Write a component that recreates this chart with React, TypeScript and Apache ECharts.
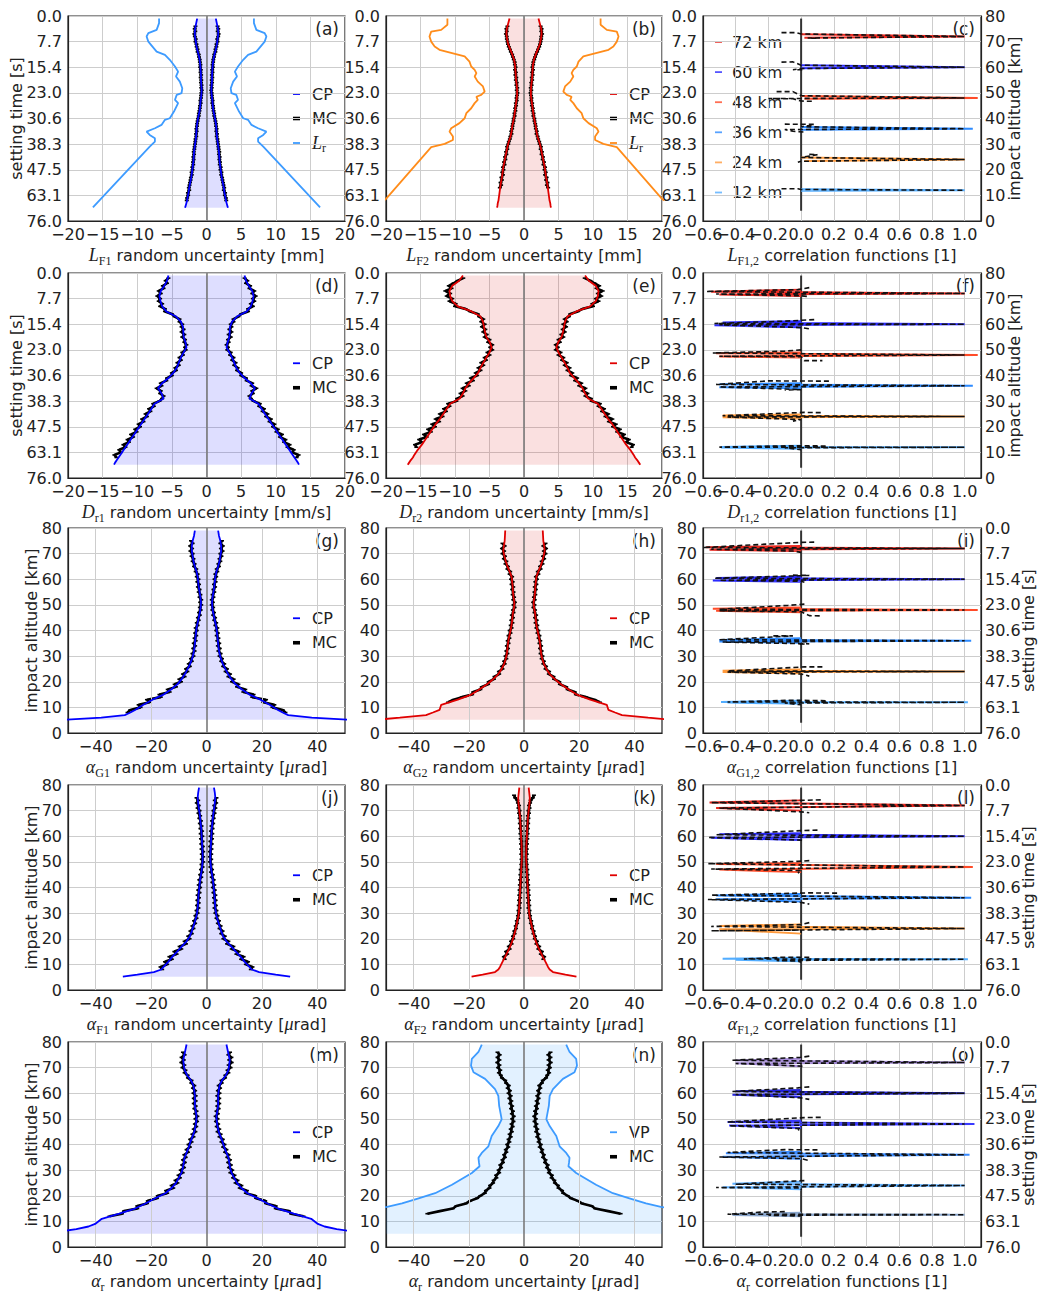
import React, { useEffect, useRef } from 'react';
import * as echarts from 'echarts';

type Pt = [number, number];
const N = null;

// ---------------- tick labels ----------------
const SETTING_TIME_LABELS = ['76.0', '63.1', '47.5', '38.3', '30.6', '23.0', '15.4', '7.7', '0.0'];
const CORR_LABELS = ['72 km', '60 km', '48 km', '36 km', '24 km', '12 km'];
const CORR_MIN_LABEL = '\u22120.6';

// ---------------- sampling altitudes [km] ----------------
const CP_ALT = [79, 77, 75, 73, 71, 69, 67, 65, 63, 61, 59, 57, 55, 53, 51, 49, 47, 45, 43, 41, 39, 37, 35, 33, 31, 29, 27, 25, 23, 21, 19, 17, 15, 13, 11, 9, 8, 7, 6, 5.2];
const MC_ALT = [78, 77, 76, 75, 74, 73, 72, 71, 70, 69, 68, 67, 66, 65, 64, 63, 62, 61, 60, 59, 58, 57, 56, 55, 54, 53, 52, 51, 50, 49, 48, 47, 46, 45, 44, 43, 42, 41, 40, 39, 38, 37, 36, 35, 34, 33, 32, 31, 30, 29, 28, 27, 26, 25, 24, 23, 22, 21, 20, 19, 18, 17, 16, 15, 14, 13, 12, 11, 10, 9, 8];

// ---------------- CP (covariance propagation) profiles ----------------
const CP_A = [1.35, 1.5, 1.65, 1.7, 1.6, 1.5, 1.35, 1.15, 1.0, 0.9, 0.85, 0.8, 0.8, 0.75, 0.7, 0.75, 0.85, 0.9, 1.0, 1.15, 1.3, 1.4, 1.45, 1.5, 1.6, 1.7, 1.8, 1.85, 1.9, 2.0, 2.1, 2.2, 2.35, 2.5, 2.6, 2.75, 2.8, 2.9, 3.0, 3.1];
const CP_B = [2.1, 2.3, 2.5, 2.55, 2.45, 2.3, 2.0, 1.7, 1.45, 1.3, 1.25, 1.2, 1.15, 1.05, 1.0, 1.0, 1.1, 1.2, 1.3, 1.4, 1.55, 1.7, 1.8, 1.95, 2.2, 2.4, 2.55, 2.7, 2.85, 3.0, 3.1, 3.2, 3.35, 3.45, 3.55, 3.65, 3.7, 3.8, 3.85, 3.9];
const CP_D = [5.5, 5.7, 6.1, 6.6, 6.8, 6.65, 6.4, 5.8, 4.4, 3.7, 3.4, 3.35, 3.3, 3.05, 2.9, 3.3, 3.7, 4.0, 4.3, 4.8, 5.5, 6.4, 7.0, 6.5, 6.2, 7.5, 7.95, 8.45, 8.95, 9.45, 9.95, 10.45, 10.95, 11.45, 11.95, 12.45, 12.7, 12.95, 13.2, 13.35];
const CP_E = [8.85, 9.4, 10.4, 10.8, 10.7, 10.4, 9.6, 7.6, 6.3, 5.95, 5.8, 5.65, 5.45, 4.95, 4.7, 5.0, 5.45, 5.9, 6.3, 6.65, 7.3, 7.95, 8.5, 8.85, 9.3, 10.7, 11.2, 11.7, 12.2, 12.8, 13.3, 13.8, 14.3, 14.8, 15.4, 15.9, 16.1, 16.4, 16.65, 16.85];
const CP_G = [4.2, 4.5, 5.0, 5.3, 5.3, 5.0, 4.7, 4.2, 3.6, 3.2, 3.0, 2.8, 2.5, 2.2, 2.0, 2.1, 2.4, 2.8, 3.2, 3.6, 3.8, 4.0, 4.2, 4.4, 4.7, 5.2, 5.9, 6.8, 7.8, 9.0, 10.5, 12.8, 15.5, 19.5, 22.8, 25.8, 27.5, 29.5, 38, 51];
const CP_H = [6.8, 6.9, 7.0, 7.3, 7.5, 7.1, 6.6, 6.0, 5.2, 4.5, 4.3, 4.1, 4.0, 3.8, 3.5, 3.6, 4.0, 4.2, 4.4, 4.7, 5.1, 5.5, 5.8, 6.0, 6.2, 6.6, 7.2, 8.1, 9.3, 11.2, 13.4, 16.2, 19.1, 24.0, 30.0, 30.6, 33.0, 35.5, 45, 53];
const CP_J = [2.7, 3.0, 3.2, 3.0, 2.8, 2.5, 2.3, 2.1, 1.9, 1.8, 1.7, 1.6, 1.5, 1.4, 1.4, 1.5, 1.7, 2.0, 2.3, 2.5, 2.7, 2.9, 3.0, 3.1, 3.3, 3.6, 4.1, 4.7, 5.3, 6.0, 7.2, 8.9, 10.6, 12.3, 13.8, 15.5, 16.3, 19.0, 25.0, 30.2];
const CP_K = [1.7, 1.9, 2.1, 2.0, 1.8, 1.6, 1.4, 1.3, 1.2, 1.1, 1.0, 0.9, 0.85, 0.8, 0.8, 0.9, 1.0, 1.1, 1.2, 1.3, 1.4, 1.5, 1.6, 1.7, 1.8, 2.0, 2.4, 2.8, 3.2, 3.7, 4.3, 5.0, 5.9, 6.8, 7.8, 8.7, 9.3, 10.5, 15.0, 19.0];
const CP_M = [7.2, 7.6, 8.0, 8.4, 8.2, 7.9, 7.0, 5.6, 4.7, 4.4, 4.2, 4.2, 4.2, 3.9, 3.6, 3.7, 4.0, 4.4, 5.1, 5.8, 6.4, 7.1, 7.9, 8.2, 8.5, 9.0, 10.0, 11.0, 12.6, 14.8, 18.5, 22.0, 25.8, 31.5, 37.8, 40.2, 42.6, 47.0, 53.0, 58.0];

// ---------------- MC (Monte Carlo) profiles ----------------
const MC_A = [N, N, 1.6, 1.7, 1.62, 1.75, 1.68, 1.55, 1.6, 1.45, 1.42, 1.3, 1.28, 1.12, 1.08, 0.98, 0.95, 0.88, 0.92, 0.82, 0.86, 0.78, 0.84, 0.76, 0.8, 0.72, 0.76, 0.68, 0.74, 0.78, 0.8, 0.88, 0.84, 0.94, 0.96, 1.02, 1.1, 1.12, 1.22, 1.28, 1.36, 1.38, 1.46, 1.42, 1.52, 1.48, 1.58, 1.62, 1.66, 1.72, 1.76, 1.84, 1.8, 1.9, 1.86, 1.95, 1.92, 2.05, 2.02, 2.15, 2.12, 2.25, 2.3, 2.38, 2.45, 2.55, 2.5, 2.68, 2.65, 2.8, 2.85];
const MC_B = [N, N, 2.4, 2.55, 2.5, 2.62, 2.5, 2.48, 2.4, 2.32, 2.2, 2.05, 1.9, 1.72, 1.6, 1.48, 1.35, 1.32, 1.22, 1.3, 1.18, 1.25, 1.12, 1.18, 1.05, 1.1, 0.98, 1.05, 0.95, 1.02, 1.08, 1.05, 1.18, 1.15, 1.28, 1.25, 1.38, 1.36, 1.5, 1.52, 1.62, 1.68, 1.72, 1.85, 1.82, 1.98, 2.05, 2.2, 2.28, 2.45, 2.42, 2.6, 2.55, 2.75, 2.7, 2.9, 2.82, 3.05, 2.98, 3.15, 3.05, 3.28, 3.2, 3.4, 3.32, 3.5, N, N, N, N, N];
const MC_D = [5.5, 5.9, 5.7, 6.3, 6.2, 6.9, 6.6, 7.1, 6.7, 6.9, 6.4, 6.7, 6.0, 6.0, 5.0, 4.6, 3.9, 3.9, 3.5, 3.6, 3.3, 3.6, 3.2, 3.5, 3.1, 3.2, 2.9, 3.1, 3.0, 3.5, 3.4, 3.9, 3.7, 4.2, 4.0, 4.5, 4.4, 5.0, 5.0, 5.7, 5.8, 6.6, 6.5, 7.2, 6.6, 6.7, 6.2, 6.4, 6.8, 7.7, 7.6, 8.3, 8.1, 8.8, 8.6, 9.3, 9.1, 9.8, 9.6, 10.3, 10.1, 10.9, 10.6, 11.4, 11.2, 12.0, 11.7, 12.6, 12.4, 13.3, 13.0];
const MC_E = [8.8, 9.6, 10.2, 10.9, 10.5, 11.4, 10.7, 11.2, 10.4, 10.8, 9.9, 10.0, 8.5, 7.8, 6.7, 6.5, 5.9, 6.2, 5.7, 6.1, 5.6, 5.9, 5.4, 5.7, 5.0, 5.2, 4.6, 4.9, 4.6, 5.3, 5.0, 5.7, 5.5, 6.2, 5.9, 6.6, 6.3, 7.0, 6.8, 7.7, 7.4, 8.3, 8.0, 8.9, 8.5, 9.2, 8.9, 9.7, 9.8, 11.0, 10.8, 11.6, 11.3, 12.2, 11.8, 12.8, 12.3, 13.3, 12.9, 13.9, 13.5, 14.5, 14.1, 15.2, 14.8, 15.8, 15.6, N, N, N, N];
const MC_G = [N, N, N, 5.6, 5.0, 5.9, 5.2, 5.8, 5.0, 5.4, 4.7, 5.0, 4.3, 4.5, 3.7, 3.9, 3.2, 3.5, 2.9, 3.3, 2.7, 3.1, 2.5, 2.8, 2.2, 2.5, 1.9, 2.3, 1.9, 2.4, 2.1, 2.7, 2.4, 3.1, 2.8, 3.5, 3.2, 3.9, 3.5, 4.1, 3.7, 4.3, 3.9, 4.6, 4.1, 4.8, 4.3, 5.1, 4.7, 5.6, 5.3, 6.4, 6.0, 7.4, 6.9, 8.5, 7.9, 9.8, 9.2, 11.5, 11.0, 14.0, 13.3, 17.0, 16.5, 21.5, 20.5, 24.5, 23.8, 27.5, 28.5];
const MC_H = [N, N, N, N, 7.8, 7.0, 8.0, 7.2, 7.8, 6.9, 7.3, 6.4, 6.7, 5.8, 6.0, 5.0, 5.2, 4.3, 4.7, 4.1, 4.5, 3.9, 4.3, 3.8, 4.1, 3.6, 3.9, 3.3, 3.8, 3.4, 4.0, 3.8, 4.4, 4.0, 4.6, 4.2, 4.8, 4.5, 5.2, 4.9, 5.6, 5.3, 5.9, 5.6, 6.2, 5.8, 6.4, 6.0, 6.7, 6.4, 7.2, 7.0, 8.0, 7.8, 9.1, 9.0, 10.7, 10.9, 12.8, 13.0, 15.3, 15.8, 18.4, 18.8, 22.5, 25.5, 27.5, N, N, N, N];
const MC_J = [N, N, N, 3.6, 3.0, 3.5, 2.8, 3.2, 2.5, 2.9, 2.3, 2.6, 2.0, 2.4, 1.8, 2.2, 1.6, 2.1, 1.5, 2.0, 1.4, 1.9, 1.3, 1.8, 1.2, 1.7, 1.2, 1.7, 1.2, 1.8, 1.4, 2.0, 1.6, 2.3, 1.9, 2.6, 2.1, 2.8, 2.3, 3.0, 2.5, 3.2, 2.7, 3.3, 2.8, 3.4, 2.9, 3.6, 3.2, 4.0, 3.6, 4.5, 4.1, 5.1, 4.7, 5.8, 5.3, 6.6, 6.1, 7.9, 7.4, 9.7, 9.1, 11.6, 10.8, 13.4, 12.5, 15.0, 14.2, 16.6, 16.0];
const MC_K = [N, N, 3.6, 3.2, 2.4, 2.2, 1.8, 2.0, 1.6, 1.8, 1.4, 1.6, 1.2, 1.5, 1.1, 1.4, 1.0, 1.3, 0.9, 1.2, 0.8, 1.1, 0.7, 1.0, 0.7, 1.0, 0.6, 0.9, 0.7, 1.0, 0.8, 1.2, 0.9, 1.3, 1.0, 1.4, 1.1, 1.5, 1.2, 1.6, 1.3, 1.7, 1.4, 1.8, 1.5, 1.9, 1.6, 2.0, 1.8, 2.2, 2.1, 2.6, 2.5, 3.0, 2.9, 3.5, 3.4, 4.0, 3.9, 4.7, 4.5, 5.5, 5.2, 6.5, 6.1, 7.3, 7.0, N, N, N, N];
const MC_M = [N, N, 8.5, 7.9, 9.0, 8.2, 9.1, 8.0, 8.7, 7.6, 7.9, 6.8, 6.7, 5.4, 5.5, 4.4, 4.9, 4.1, 4.7, 3.9, 4.6, 3.9, 4.6, 3.9, 4.4, 3.6, 4.1, 3.3, 4.0, 3.4, 4.2, 3.7, 4.6, 4.0, 5.1, 4.7, 5.9, 5.4, 6.5, 6.0, 7.2, 6.7, 8.0, 7.5, 8.5, 7.8, 8.8, 8.1, 9.3, 8.6, 10.1, 9.6, 11.2, 10.5, 12.6, 12.0, 14.6, 14.2, 17.6, 17.9, 21.2, 21.5, 25.0, 25.0, 29.8, 30.5, 35.0, N, N, N, N];
const MC_N = [N, N, 9.6, 8.8, 9.6, 8.9, 9.7, 8.9, 9.4, 8.6, 9.1, 8.4, 8.0, 6.8, 6.5, 5.5, 5.9, 5.1, 5.6, 4.8, 5.3, 4.6, 5.0, 4.3, 4.7, 4.0, 4.4, 3.7, 4.3, 3.8, 4.5, 4.1, 4.8, 4.4, 5.2, 4.8, 5.6, 5.3, 6.1, 5.7, 6.6, 6.4, 7.2, 6.9, 7.8, 7.6, 8.6, 8.3, 9.2, 9.0, 10.1, 10.0, 11.0, 11.2, 12.3, 12.5, 13.8, 14.2, 15.8, 17.0, 19.5, 21.0, 24.5, 25.8, 30.5, 35.0, N, N, N, N, N];

// ---------------- extra profiles [value, altitude] ----------------
const LR_A: Pt[] = [[6.85, 79], [6.85, 77.2], [7.2, 74.6], [8.4, 73.3], [8.65, 72], [8.4, 70], [7.2, 66.1], [6.0, 64.8], [5.3, 62.9], [4.55, 60.3], [4.1, 58.3], [4.4, 56.4], [3.85, 54.4], [3.5, 51.8], [3.6, 49.9], [4.3, 49.2], [4.55, 47.3], [4.1, 46], [4.7, 42.7], [5.3, 40.1], [6.0, 39.5], [6.5, 37.5], [7.45, 36.2], [8.65, 34.9], [8.2, 33.6], [7.45, 32.3], [7.45, 31], [8.2, 29], [16.4, 5.3]];
const LR_B: Pt[] = [[11.1, 79], [11.1, 76.6], [12.0, 74.6], [13.45, 73.9], [13.7, 72], [13.45, 70], [12.95, 68.1], [12.25, 66.8], [8.6, 64.2], [7.9, 62.2], [7.65, 60.3], [7.15, 59], [6.9, 57.7], [7.15, 56.4], [6.7, 54.4], [5.95, 52.5], [5.7, 50.5], [6.2, 49.2], [6.9, 48.5], [6.7, 47.3], [7.15, 46], [7.65, 44], [8.35, 42.1], [8.6, 40.1], [9.35, 38.2], [10.55, 36.2], [10.8, 34.9], [10.3, 33], [10.3, 31.6], [11.5, 30.1], [13.45, 28.8], [20, 8.6], [21.9, 5.3]];
const VP_N: Pt[] = [[15.3, 79], [16.5, 76.1], [18.9, 73.4], [19.2, 70.8], [18.3, 68.2], [14.1, 65.6], [10.5, 61.6], [9.3, 59], [9.0, 55.1], [8.3, 51.1], [8.1, 49.8], [9.3, 47.2], [11.7, 43.3], [12.9, 39.3], [15.3, 36.7], [16.5, 34.8], [16.3, 32.8], [16.1, 31.5], [18.9, 28.9], [26.1, 24.3], [32.2, 21], [38.2, 19], [44.2, 17], [49.6, 15.7], [56, 14.5], [64, 13], [80, 10], [95, 5.2]];

// ---------------- correlation functions [corr, altitude offset] ----------------
const CORR_ALT = [72, 60, 48, 36, 24, 12];
const CORR_ALT_O = [72, 60, 48, 36, 24, 12.6];
const CORR_ZERO_SPAN = [4, 79];

const CORR_C_CP: Pt[][] = [
  [[0, 0.9], [1.0, 0], [0.02, -0.5]],
  [[0, 0.8], [1.0, 0], [0, -0.4]],
  [[0, 0.8], [1.08, 0], [0.02, -0.3]],
  [[0, 0.7], [1.05, 0], [0, -0.4]],
  [[0, 0.8], [1.0, 0], [0.02, -0.6]],
  [[0, 0.4], [1.0, 0], [0, -0.2]],
];
const CORR_C_MC: Pt[][] = [
  [[-0.12, 1.5], [-0.03, 1.5], [0, 1.0], [1.0, 0], [0.04, -0.6], [0.1, -0.7]],
  [[-0.12, 2.0], [-0.05, 2.1], [0, 0.8], [1.0, 0], [0, -0.5], [-0.05, -1.0], [0.02, -1.0]],
  [[-0.15, 2.5], [-0.05, 2.5], [0, 0.9], [1.0, 0], [-0.2, -0.2], [-0.05, -0.3], [0, -1.2], [0.08, -1.3]],
  [[-0.1, 1.8], [0.08, 1.7], [0, 0.8], [1.0, 0], [-0.1, -0.3], [-0.05, -1.0], [0.03, -1.3]],
  [[0.05, 2.0], [0.1, 1.9], [0, 0.8], [1.0, 0], [0, -0.7], [-0.02, -1.1]],
  [[-0.12, 0.6], [-0.02, 0.6], [0, 0.3], [1.0, 0]],
];
const CORR_F_CP: Pt[][] = [
  [[0, 1.5], [-0.55, 0.7], [1.0, 0], [-0.5, -0.4], [0, -1.0]],
  [[0, 1.2], [-0.48, 0.7], [1.0, 0], [-0.53, -0.4], [0, -1.2]],
  [[0, 1.0], [-0.52, 0.7], [1.08, 0], [-0.5, -0.6], [0, -1.0]],
  [[0, 1.0], [-0.5, 0.6], [1.05, 0], [-0.5, -0.6], [0, -1.0]],
  [[0, 0.8], [-0.48, 0.4], [1.0, 0], [-0.48, -0.3], [0, -0.8]],
  [[0, 0.6], [-0.49, 0.1], [1.0, 0], [-0.49, -0.1], [0, -0.6]],
];
const CORR_F_MC: Pt[][] = [
  [[0.05, 2.3], [-0.02, 1.5], [-0.58, 0.8], [1.0, 0], [-0.52, -0.2], [0, -0.9], [0.05, -1.2]],
  [[0.08, 1.8], [-0.1, 1.2], [-0.53, 0.3], [1.0, 0], [-0.5, -0.2], [0, -1.3], [0.05, -1.8]],
  [[0, 2.0], [-0.1, 1.5], [-0.54, 0.8], [1.0, 0], [-0.5, -0.5], [0, -0.7], [0.02, -2.2], [0.13, -2.2]],
  [[0.17, 1.8], [-0.2, 1.9], [-0.52, 0.5], [1.0, 0], [-0.5, -0.5], [0, -1.5], [-0.1, -1.7]],
  [[0.12, 1.5], [0.02, 1.6], [-0.48, 0.3], [1.0, 0], [-0.45, -0.2], [0, -1.2], [-0.05, -1.8]],
  [[0.15, 0.5], [-0.05, 0.6], [-0.5, 0.05], [1.0, 0], [-0.1, -0.2], [0, -1.0]],
];
const CORR_I_CP: Pt[][] = [
  [[0, 1.0], [-0.58, 0.5], [1.0, 0], [-0.56, -0.5], [0, -1.0]],
  [[0, 1.0], [-0.52, 0.5], [1.0, 0], [-0.54, -0.5], [0, -1.0]],
  [[0, 1.0], [-0.54, 0.5], [1.08, 0], [-0.52, -0.3], [0, -0.9]],
  [[0, 1.0], [-0.5, 0.3], [1.04, 0], [-0.5, -0.3], [0, -0.8]],
  [[0, 0.8], [-0.48, 0.3], [1.0, 0], [-0.48, -0.2], [0, -0.7]],
  [[0, 0.6], [-0.49, 0.1], [1.02, 0], [-0.45, -0.1], [0, -0.6]],
];
const CORR_I_MC: Pt[][] = [
  [[0.08, 2.5], [0, 2.4], [-0.6, 0.4], [1.0, 0], [-0.55, -0.3], [-0.05, -1.0], [0, -1.5]],
  [[-0.05, 1.6], [0.05, 1.5], [-0.53, 0.4], [1.0, 0], [-0.5, -0.4], [0, -0.8], [0.02, -1.2]],
  [[0.02, 2.3], [-0.08, 1.8], [-0.5, 0.3], [1.0, 0], [-0.5, -0.3], [0, -0.7], [0.05, -2.2], [0.13, -2.3]],
  [[-0.17, 1.9], [-0.05, 1.9], [-0.5, 0.4], [1.0, 0], [-0.48, -0.5], [0.05, -1.2], [-0.02, -1.4]],
  [[0.13, 1.8], [0.02, 1.8], [-0.45, 0.2], [1.0, 0], [-0.45, -0.2], [0, -1.0], [0.05, -1.8]],
  [[0.15, 0.6], [-0.05, 0.8], [-0.45, 0.1], [1.0, 0], [-0.1, -0.3], [0, -1.0]],
];
const CORR_L_CP: Pt[][] = [
  [[0, 2.0], [-0.56, 1.2], [1.0, 0], [-0.52, -1.0], [0, -2.0]],
  [[0, 1.2], [-0.5, 0.8], [1.0, 0], [-0.55, -0.6], [0, -1.5]],
  [[0, 1.5], [-0.52, 1.2], [1.05, 0], [-0.5, -1.0], [0, -2.0]],
  [[0, 1.5], [-0.52, 0.9], [1.04, 0], [-0.52, -0.6], [0, -1.5]],
  [[0, 1.6], [-0.5, 1.0], [1.0, 0], [-0.5, -0.3], [0, -2.0]],
  [[0, 0.6], [-0.48, 0.2], [1.02, 0], [-0.4, -0.2], [0, -0.8]],
];
const CORR_L_MC: Pt[][] = [
  [[0.12, 2.2], [0, 2.0], [-0.55, 1.1], [1.0, 0], [-0.5, -1.0], [0, -2.5], [0.05, -2.8]],
  [[0.1, 2.4], [0, 2.2], [-0.52, 0.6], [1.0, 0], [-0.57, -0.5], [0, -1.5], [0.02, -2.0]],
  [[0.05, 2.5], [-0.02, 2.2], [-0.57, 1.3], [1.0, 0], [-0.55, -0.8], [0, -1.4], [-0.02, -2.4]],
  [[0.22, 1.8], [0.05, 1.9], [-0.55, 1.0], [1.0, 0], [-0.57, -0.7], [0, -1.8], [0.05, -2.5]],
  [[0.05, 2.3], [0, 1.5], [-0.55, 0.8], [1.0, 0], [-0.55, -0.9], [0, -0.6], [0, -1.9]],
  [[0.05, 0.8], [-0.1, 0.8], [-0.35, 0.1], [1.0, 0], [-0.15, -0.5], [-0.02, -0.7], [0, -1.2]],
];
const CORR_O_CP: Pt[][] = [
  [[0, 1.5], [-0.4, 0.8], [1.0, 0], [-0.4, -0.3], [0, -1.5]],
  [[0, 1.3], [-0.4, 0.8], [1.0, 0], [-0.42, -0.6], [0, -1.5]],
  [[0, 1.3], [-0.45, 0.8], [1.06, 0], [-0.44, -0.6], [0, -1.6]],
  [[0, 1.2], [-0.46, 0.6], [1.03, 0], [-0.48, -0.8], [0, -1.6]],
  [[0, 1.5], [-0.42, 0.7], [1.0, 0], [-0.48, -0.7], [0, -1.5]],
  [[0, 0.8], [-0.42, 0.2], [1.0, 0], [-0.42, -0.1], [0, -0.6]],
];
const CORR_O_MC: Pt[][] = [
  [[0.05, 2.5], [0, 2.0], [-0.42, 0.9], [1.0, 0], [-0.4, -0.4], [0, -1.4], [0.02, -1.8]],
  [[0.05, 2.5], [-0.02, 2.1], [-0.42, 0.7], [1.0, 0], [-0.4, -0.5], [0, -1.8], [0.05, -2.4]],
  [[0.12, 2.6], [0.02, 2.5], [-0.45, 0.8], [1.0, 0], [-0.44, -0.7], [0, -1.8], [-0.02, -2.4]],
  [[0.1, 1.9], [-0.1, 2.0], [-0.45, 0.9], [1.0, 0], [-0.5, -0.9], [0, -1.5], [0.05, -2.3]],
  [[0.02, 1.9], [-0.05, 1.7], [-0.4, 0.5], [1.0, 0], [-0.52, -0.8], [0, -1.0], [0, -1.8]],
  [[-0.1, 1.2], [-0.25, 1.0], [-0.45, 0.2], [1.0, 0], [-0.2, -0.2], [0, -0.5]],
];

// ---------------- styles ----------------
const FONT = 'DejaVu Sans';
const MATH = 'Liberation Serif';
const INK = '#222222';
const GRID_LINE = '#cdcdcd';
const BLUE = '#0000ff';
const RED = '#e00000';
const BLUE_FILL = 'rgba(0,0,255,0.13)';
const RED_FILL = 'rgba(215,0,0,0.12)';
const SKY_FILL = 'rgba(51,153,255,0.14)';
const LR_BLUE = '#3d9bff';
const LR_ORANGE = '#ff8c1a';
const CORR_COLORS = ['#e8271e', '#2b2bff', '#ff4b28', '#2e8bff', '#ff9a3c', '#52adff'];
const CORR_COLORS_O = ['#a48ad6', '#2323d8', '#3a3aff', '#3b8cff', '#5fb0ff', '#8aa6cc'];

const COLS: [number, number][] = [[68, 277], [386, 276], [703, 278]];
const ROWS = [16, 273, 528, 785, 1042];
const PH = 205;
const X_LABEL_MARGIN = 5;

const RICH: any = {
  it: { fontFamily: MATH, fontStyle: 'italic', fontSize: 18, lineHeight: 24, color: INK },
  sub: { fontFamily: MATH, fontSize: 12, lineHeight: 13, verticalAlign: 'bottom', color: INK },
  tx: { fontFamily: FONT, fontSize: 16, lineHeight: 24, color: INK },
};
const G_RICH: any = {
  it: { fontFamily: MATH, fontStyle: 'italic', fontSize: 18, lineHeight: 22, fill: INK },
  sub: { fontFamily: MATH, fontSize: 12, lineHeight: 11, verticalAlign: 'bottom', fill: INK },
};

function mathName(sym: string, sub: string, rest: string): string {
  const parts = rest.split('μ');
  let s = `{it|${sym}}` + (sub ? `{sub|${sub}}` : '') + `{tx| ${parts[0]}}`;
  if (parts.length > 1) s += `{it|μ}{tx|${parts[1]}}`;
  return s;
}

const minus = (s: string) => s.replace('-', '\u2212');
const fmtNarrow = (v: number) => (Math.abs(v) < 1e-9 ? '0' : minus(String(Math.round(v))));
const fmtWide = (v: number) => {
  const r = Math.round(v);
  if (Math.abs(r) >= 50 || r % 20 !== 0) return '';
  return r === 0 ? '0' : minus(String(r));
};
const fmtCorr = (v: number) => {
  if (v > 1.05) return '';
  return Math.abs(v) < 1e-9 ? '0.0' : minus(v.toFixed(1));
};
const fmtTime = (v: number) => SETTING_TIME_LABELS[Math.round(v / 10)] ?? '';
const fmtAlt = (v: number) => String(Math.round(v));

function toPts(vals: (number | null)[], alts: number[]): Pt[] {
  const out: Pt[] = [];
  const n = Math.min(vals.length, alts.length);
  for (let i = 0; i < n; i++) {
    const v = vals[i];
    if (v !== null && v !== undefined) out.push([v, alts[i]]);
  }
  return out;
}
const mirror = (pts: Pt[]): Pt[] => pts.map(([x, y]) => [-x, y] as Pt);

type RandPanel = {
  label: string; row: number; col: number;
  cp: number[] | null; mc: (number | null)[];
  color: string; fill: string;
  extra?: Pt[]; extraColor?: string; extraText?: string;
  xname: string; yname?: string;
};

const RAND_PANELS: RandPanel[] = [
  { label: '(a)', row: 0, col: 0, cp: CP_A, mc: MC_A, color: BLUE, fill: BLUE_FILL, extra: LR_A, extraColor: LR_BLUE, extraText: '{it|L}{sub|r}', xname: mathName('L', 'F1', 'random uncertainty [mm]'), yname: 'setting time [s]' },
  { label: '(b)', row: 0, col: 1, cp: CP_B, mc: MC_B, color: RED, fill: RED_FILL, extra: LR_B, extraColor: LR_ORANGE, extraText: '{it|L}{sub|r}', xname: mathName('L', 'F2', 'random uncertainty [mm]') },
  { label: '(d)', row: 1, col: 0, cp: CP_D, mc: MC_D, color: BLUE, fill: BLUE_FILL, xname: mathName('D', 'r1', 'random uncertainty [mm/s]'), yname: 'setting time [s]' },
  { label: '(e)', row: 1, col: 1, cp: CP_E, mc: MC_E, color: RED, fill: RED_FILL, xname: mathName('D', 'r2', 'random uncertainty [mm/s]') },
  { label: '(g)', row: 2, col: 0, cp: CP_G, mc: MC_G, color: BLUE, fill: BLUE_FILL, xname: mathName('α', 'G1', 'random uncertainty [μrad]'), yname: 'impact altitude [km]' },
  { label: '(h)', row: 2, col: 1, cp: CP_H, mc: MC_H, color: RED, fill: RED_FILL, xname: mathName('α', 'G2', 'random uncertainty [μrad]') },
  { label: '(j)', row: 3, col: 0, cp: CP_J, mc: MC_J, color: BLUE, fill: BLUE_FILL, xname: mathName('α', 'F1', 'random uncertainty [μrad]'), yname: 'impact altitude [km]' },
  { label: '(k)', row: 3, col: 1, cp: CP_K, mc: MC_K, color: RED, fill: RED_FILL, xname: mathName('α', 'F2', 'random uncertainty [μrad]') },
  { label: '(m)', row: 4, col: 0, cp: CP_M, mc: MC_M, color: BLUE, fill: BLUE_FILL, xname: mathName('α', 'r', 'random uncertainty [μrad]'), yname: 'impact altitude [km]' },
  { label: '(n)', row: 4, col: 1, cp: null, mc: MC_N, color: LR_BLUE, fill: SKY_FILL, extra: VP_N, extraColor: LR_BLUE, extraText: 'VP', xname: mathName('α', 'r', 'random uncertainty [μrad]') },
];

type CorrPanel = { label: string; row: number; cp: Pt[][]; mc: Pt[][]; colors: string[]; alts: number[]; xname: string; legend: boolean };
const CORR_PANELS: CorrPanel[] = [
  { label: '(c)', row: 0, cp: CORR_C_CP, mc: CORR_C_MC, colors: CORR_COLORS, alts: CORR_ALT, xname: mathName('L', 'F1,2', 'correlation functions [1]'), legend: true },
  { label: '(f)', row: 1, cp: CORR_F_CP, mc: CORR_F_MC, colors: CORR_COLORS, alts: CORR_ALT, xname: mathName('D', 'r1,2', 'correlation functions [1]'), legend: false },
  { label: '(i)', row: 2, cp: CORR_I_CP, mc: CORR_I_MC, colors: CORR_COLORS, alts: CORR_ALT, xname: mathName('α', 'G1,2', 'correlation functions [1]'), legend: false },
  { label: '(l)', row: 3, cp: CORR_L_CP, mc: CORR_L_MC, colors: CORR_COLORS, alts: CORR_ALT, xname: mathName('α', 'F1,2', 'correlation functions [1]'), legend: false },
  { label: '(o)', row: 4, cp: CORR_O_CP, mc: CORR_O_MC, colors: CORR_COLORS_O, alts: CORR_ALT_O, xname: mathName('α', 'r', 'correlation functions [1]'), legend: false },
];

function buildOption(): any {
  const grid: any[] = [];
  const xAxis: any[] = [];
  const yAxis: any[] = [];
  const series: any[] = [];
  const graphic: any[] = [];

  const addGrid = (row: number, col: number) => {
    grid.push({
      left: COLS[col][0], top: ROWS[row], width: COLS[col][1], height: PH,
      show: true, borderColor: INK, borderWidth: 1.2, backgroundColor: 'rgba(0,0,0,0)',
      containLabel: false, outerBoundsMode: 'none',
    });
    return grid.length - 1;
  };

  const mkX = (g: number, min: number, max: number, interval: number, formatter: any, split: boolean, name: string, showMin = true) => ({
    gridIndex: g, type: 'value', min, max, interval,
    axisLine: { show: true, onZero: false, lineStyle: { color: INK, width: 1.2 } },
    axisTick: { show: false },
    axisLabel: {
      fontFamily: FONT, fontSize: 16, color: INK, margin: X_LABEL_MARGIN, formatter,
      showMinLabel: showMin, showMaxLabel: true, hideOverlap: false,
    },
    splitLine: { show: split, lineStyle: { color: GRID_LINE, width: 1 } },
    name, nameLocation: 'middle', nameGap: 22, nameMoveOverlap: false,
    nameTextStyle: { fontFamily: FONT, fontSize: 16, color: INK, rich: RICH },
  });

  const mkY = (g: number, kind: 'time' | 'alt', position: 'left' | 'right', name: string, nameGap: number, split: boolean) => ({
    gridIndex: g, type: 'value', min: 0, max: 80, interval: 10, position,
    axisLine: { show: true, onZero: false, lineStyle: { color: INK, width: 1.2 } },
    axisTick: { show: false },
    axisLabel: { fontFamily: FONT, fontSize: 16, color: INK, margin: position === 'right' ? 4 : 6, formatter: kind === 'time' ? fmtTime : fmtAlt, showMinLabel: true, showMaxLabel: true, hideOverlap: false },
    splitLine: { show: split, lineStyle: { color: GRID_LINE, width: 1 } },
    name, nameLocation: 'middle', nameGap, nameRotate: 90, nameMoveOverlap: false,
    nameTextStyle: { fontFamily: FONT, fontSize: 16, color: INK },
  });

  const lineSeries = (xi: number, yi: number, data: Pt[], lineStyle: any, z: number, extra: any = {}) => ({
    type: 'line', xAxisIndex: xi, yAxisIndex: yi, data, showSymbol: false, symbol: 'none',
    silent: true, animation: false, clip: true, z, lineStyle, ...extra,
  });

  const panelLabel = (row: number, col: number, text: string) => {
    const right = COLS[col][0] + COLS[col][1];
    graphic.push({
      type: 'text', x: right - 6, y: ROWS[row] + 13, silent: true,
      style: { text, fontFamily: FONT, fontSize: 17, fill: INK, align: 'right', verticalAlign: 'middle' },
    });
  };

  // ---------- random-uncertainty panels ----------
  RAND_PANELS.forEach((p) => {
    const g = addGrid(p.row, p.col);
    const wide = p.row >= 2;
    const R = wide ? 50 : 20;
    xAxis.push(mkX(g, -R, R, wide ? 10 : 5, wide ? fmtWide : fmtNarrow, !wide, p.xname));
    const yi = yAxis.length;
    yAxis.push(mkY(g, wide ? 'alt' : 'time', 'left', p.yname ?? '', wide ? 29 : 44, true));

    const right: Pt[] = p.cp ? toPts(p.cp, CP_ALT) : (p.extra as Pt[]);
    const poly: Pt[] = [...right, ...mirror(right).reverse()];
    const gridVals = wide ? [-40, -20, 20, 40] : [];

    series.push({
      type: 'custom', xAxisIndex: g, yAxisIndex: yi, silent: true, animation: false, z: 1, clip: true,
      data: [[0, 40]],
      renderItem: (_params: any, api: any) => {
        const pts = poly.map(([x, y]) => api.coord([Math.max(-R, Math.min(R, x)), y]));
        return { type: 'polygon', shape: { points: pts }, style: { fill: p.fill }, silent: true };
      },
      markLine: {
        silent: true, symbol: ['none', 'none'], label: { show: false }, animation: false,
        emphasis: { disabled: true },
        data: [
          ...gridVals.map((v) => ({ xAxis: v, lineStyle: { color: GRID_LINE, width: 1, type: 'solid' } })),
          { xAxis: 0, lineStyle: { color: '#7a7a7a', width: 1.6, type: 'solid' } },
        ],
      },
    });

    if (p.extra) {
      const ls = { color: p.extraColor, width: 1.8 };
      series.push(lineSeries(g, yi, p.extra, ls, 3));
      series.push(lineSeries(g, yi, mirror(p.extra), ls, 3));
    }

    const mc = toPts(p.mc, MC_ALT);
    const mcStyle = { color: '#000', width: 2.6 };
    const mcExtra = { showSymbol: true, symbol: 'rect', symbolSize: [4, 1.6], itemStyle: { color: '#000' } };
    series.push(lineSeries(g, yi, mc, mcStyle, 4, mcExtra));
    series.push(lineSeries(g, yi, mirror(mc), mcStyle, 4, mcExtra));

    if (p.cp) {
      const ls = { color: p.color, width: 1.8 };
      series.push(lineSeries(g, yi, right, ls, 5));
      series.push(lineSeries(g, yi, mirror(right), ls, 5));
    }

    // legend
    const entries: { color: string; w: number; text: string }[] = [];
    if (p.cp) entries.push({ color: p.color, w: 1.8, text: 'CP' });
    if (!p.cp && p.extraText) entries.push({ color: p.extraColor as string, w: 1.8, text: p.extraText });
    entries.push({ color: '#000', w: 3.6, text: 'MC' });
    if (p.cp && p.extra && p.extraText) entries.push({ color: p.extraColor as string, w: 1.8, text: p.extraText });
    const rx = COLS[p.col][0] + COLS[p.col][1];
    const cy = ROWS[p.row] + PH / 2;
    entries.forEach((e, i) => {
      const y = cy + (i - (entries.length - 1) / 2) * 24.5;
      graphic.push({ type: 'line', silent: true, shape: { x1: rx - 52, y1: y, x2: rx - 45, y2: y }, style: { stroke: e.color, lineWidth: e.w } });
      graphic.push({
        type: 'text', silent: true, x: rx - 33, y,
        style: { text: e.text, fontFamily: FONT, fontSize: 16, fill: INK, align: 'left', verticalAlign: 'middle', rich: G_RICH },
      });
    });
    panelLabel(p.row, p.col, p.label);
  });

  // ---------- correlation panels ----------
  CORR_PANELS.forEach((p) => {
    const g = addGrid(p.row, 2);
    const top2 = p.row >= 2;
    // the min tick label (-0.6) is written separately so that ECharts does not drop its crowded neighbour
    xAxis.push(mkX(g, -0.6, 1.1, 0.2, fmtCorr, true, p.xname, false));
    graphic.push({
      type: 'text', silent: true, x: COLS[2][0], y: ROWS[p.row] + PH + X_LABEL_MARGIN,
      style: { text: CORR_MIN_LABEL, fontFamily: FONT, fontSize: 16, fill: INK, align: 'center', verticalAlign: 'top' },
    });
    const yi = yAxis.length;
    yAxis.push(mkY(g, top2 ? 'alt' : 'time', 'left', '', 30, true));
    yAxis.push(mkY(g, top2 ? 'time' : 'alt', 'right', top2 ? 'setting time [s]' : 'impact altitude [km]', top2 ? 39 : 25, false));

    series.push(lineSeries(g, yi, CORR_ZERO_SPAN.map((a) => [0, a] as Pt), { color: '#333', width: 2 }, 2));
    p.alts.forEach((alt, k) => {
      const cpPts = p.cp[k].map(([c, dz]) => [c, alt + dz] as Pt);
      const mcPts = p.mc[k].map(([c, dz]) => [c, alt + dz] as Pt);
      series.push(lineSeries(g, yi, cpPts, { color: p.colors[k], width: 2 }, 3));
      series.push(lineSeries(g, yi, mcPts, { color: '#111', width: 1.6, type: [5, 3] }, 4));
    });

    if (p.legend) {
      const lx = COLS[2][0];
      CORR_LABELS.forEach((t, k) => {
        const y = ROWS[p.row] + 26 + k * 30.1;
        graphic.push({ type: 'line', silent: true, shape: { x1: lx + 12, y1: y, x2: lx + 19, y2: y }, style: { stroke: p.colors[k], lineWidth: 1.8, opacity: 0.8 } });
        graphic.push({ type: 'text', silent: true, x: lx + 29, y, style: { text: t, fontFamily: FONT, fontSize: 16, fill: INK, align: 'left', verticalAlign: 'middle' } });
      });
    }
    panelLabel(p.row, 2, p.label);
  });

  return { animation: false, backgroundColor: '#ffffff', grid, xAxis, yAxis, series, graphic };
}

export default function App() {
  const ref = useRef<HTMLDivElement>(null);
  useEffect(() => {
    document.body.style.margin = '0';
    if (!ref.current) return;
    const chart = echarts.init(ref.current, null, { renderer: 'svg' });
    chart.setOption(buildOption());
    return () => chart.dispose();
  }, []);
  return <div ref={ref} style={{ width: 1038, height: 1294 }} />;
}
